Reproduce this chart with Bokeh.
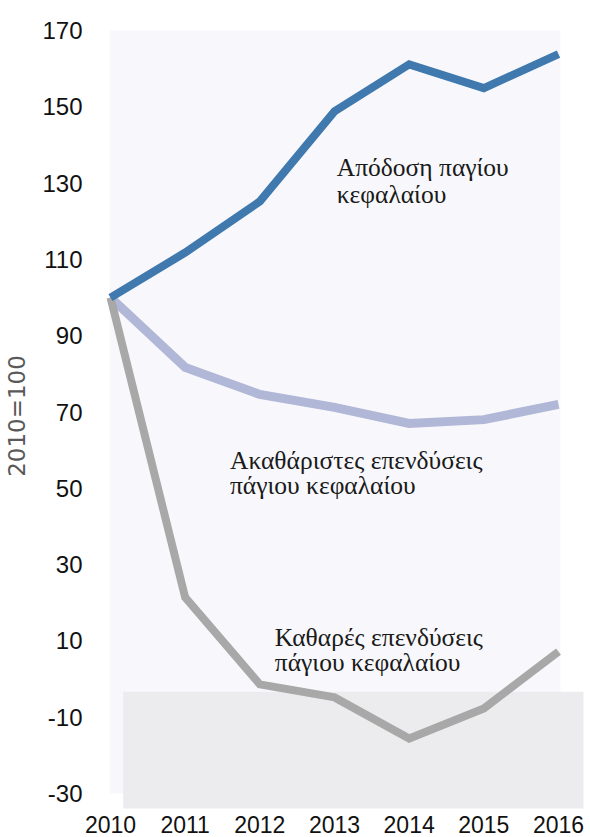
from bokeh.plotting import figure
from bokeh.models import Range1d, FixedTicker, ColumnDataSource, PrintfTickFormatter
from bokeh.core.properties import value
from bokeh.embed import file_html
from bokeh.resources import INLINE

# ---- data ----
years = [2010, 2011, 2012, 2013, 2014, 2015, 2016]
apodosi = [100, 111.8, 125.2, 148.8, 161.1, 154.9, 163.8]          # Απόδοση παγίου κεφαλαίου
akatharistes = [100, 81.7, 74.6, 71.2, 67.0, 68.0, 72.0]           # Ακαθάριστες επενδύσεις
kathares = [100, 21.4, -1.4, -4.8, -15.6, -7.7, 7.2]               # Καθαρές επενδύσεις
y_ticks = [-30, -10, 10, 30, 50, 70, 90, 110, 130, 150, 170]
y_label = "2010=100"

# annotation texts (one entry per line) and their anchors
ann_text = ["Απόδοση παγίου", "κεφαλαίου",
            "Ακαθάριστες επενδύσεις", "πάγιου κεφαλαίου",
            "Καθαρές επενδύσεις", "πάγιου κεφαλαίου"]
ann_x = [2013.03, 2013.03, 2011.6, 2011.6, 2012.2, 2012.2]
ann_y = [134.1, 127.1, 57.2, 50.7, 10.9, 4.3]

# ---- figure ----
p = figure(width=590, height=837, output_backend="svg", toolbar_location=None,
           x_range=Range1d(2009.9464, 2016.4286), y_range=Range1d(-34.19, 172.1),
           min_border_left=106, min_border_right=0, min_border_top=22, min_border_bottom=28)
p.outline_line_color = None
p.background_fill_color = "white"
p.border_fill_color = "white"
p.xgrid.visible = False
p.ygrid.visible = False

# background panels
p.quad(left=[2009.987], right=[2016.027], bottom=[-30], top=[170],
       fill_color="#f8f8fc", line_color=None)
p.quad(left=[2010.17], right=[2016.335], bottom=[-33.9], top=[-3.3],
       fill_color="#ececee", line_color=None)

# lines
p.line(years, akatharistes, line_color="#b1b7d6", line_width=9, line_cap="butt", line_join="miter")
p.line(years, kathares, line_color="#a8a8a8", line_width=8, line_cap="butt", line_join="miter")
p.line(years, apodosi, line_color="#3f79ad", line_width=8, line_cap="butt", line_join="miter")

src = ColumnDataSource(dict(x=ann_x, y=ann_y, t=ann_text))
p.text(x="x", y="y", text="t", source=src, text_font=value("Liberation Serif"),
       text_font_size="25.5px", text_color="#1a1a1a", text_baseline="alphabetic", text_align="left")

# axes
p.xaxis.ticker = FixedTicker(ticks=years)
p.yaxis.ticker = FixedTicker(ticks=y_ticks)
p.yaxis.formatter = PrintfTickFormatter(format="%d")
p.xaxis.formatter = PrintfTickFormatter(format="%d")
for ax in (p.xaxis, p.yaxis):
    ax.axis_line_color = None
    ax.major_tick_line_color = None
    ax.minor_tick_line_color = None
    ax.major_label_text_font = "Liberation Sans"
    ax.major_label_text_color = "#111111"
p.xaxis.major_label_standoff = 0
p.yaxis.major_label_standoff = 18
p.xaxis.major_label_text_font_size = "23px"
p.yaxis.major_label_text_font_size = "24px"
p.yaxis.axis_label = y_label
p.yaxis.axis_label_text_font = "DejaVu Sans"
p.yaxis.axis_label_text_font_size = "23px"
p.yaxis.axis_label_text_font_style = "normal"
p.yaxis.axis_label_text_color = "#595959"
p.yaxis.axis_label_standoff = 9

open("out.html", "w").write(file_html(p, INLINE))
